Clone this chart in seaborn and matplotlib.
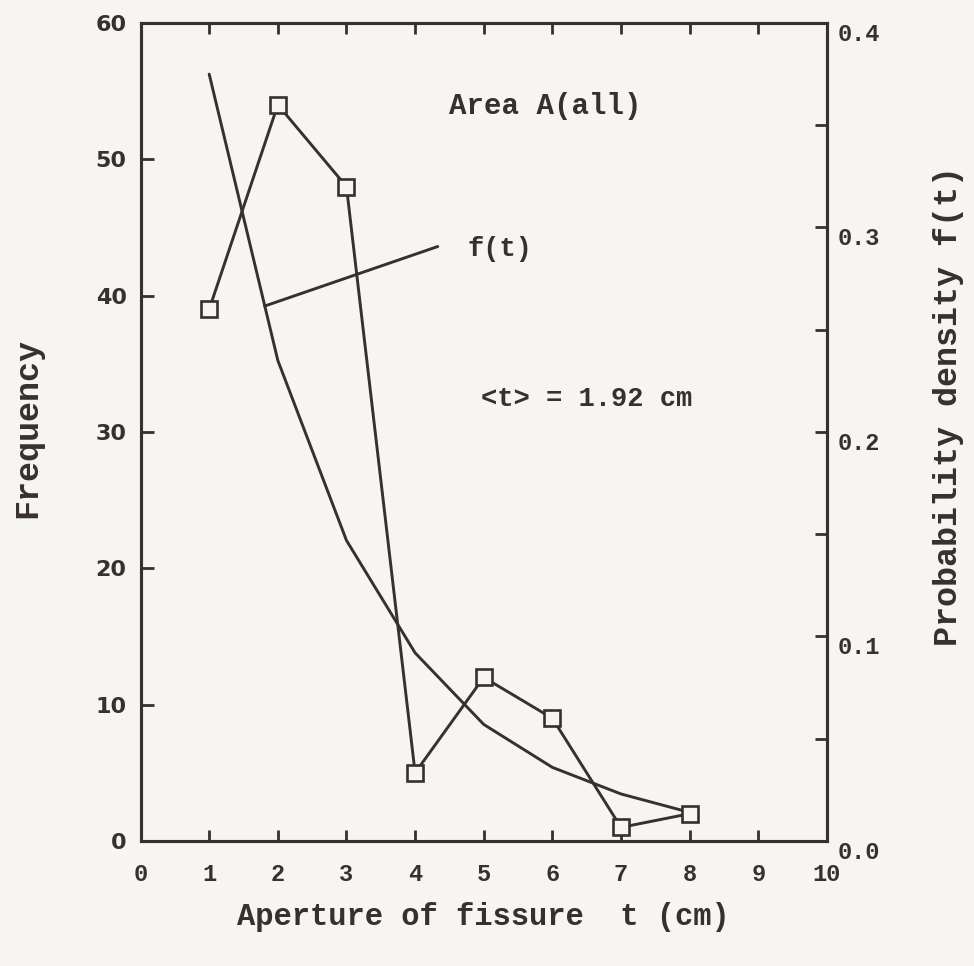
import numpy as np
import pandas as pd
import matplotlib
matplotlib.use("Agg")
import matplotlib.pyplot as plt
import seaborn as sns

# Observed fissure apertures (cm) and their counts
aperture_cm = [1, 2, 3, 4, 5, 6, 7, 8]
frequency = [39, 54, 48, 5, 12, 9, 1, 2]

# Fitted probability density f(t)
density_t = [1, 2, 3, 4, 5, 6, 7, 8]
density_ft = [0.375, 0.235, 0.147, 0.092, 0.057, 0.036, 0.023, 0.014]

x_ticks = list(range(0, 11))
freq_ticks = [0, 10, 20, 30, 40, 50, 60]
dens_ticks = [0.0, 0.1, 0.2, 0.3, 0.4]
dens_minor = [0.05, 0.15, 0.25, 0.35]
dens_labels = ["0.0", "0.1", "0.2", "0.3", "0.4"]

PAPER = "#f7f5f2"
INK = "#372f30"
MONO = ["Liberation Mono", "DejaVu Sans Mono"]

sns.set_theme(style="ticks")
plt.rcParams.update({
    "axes.edgecolor": INK,
    "axes.linewidth": 2.2,
    "xtick.color": INK,
    "ytick.color": INK,
    "text.color": INK,
    "axes.facecolor": PAPER,
    "figure.facecolor": PAPER,
})

df_freq = pd.DataFrame({"t": aperture_cm, "n": frequency})
df_dens = pd.DataFrame({"t": density_t, "f": density_ft})

fig = plt.figure(figsize=(9.74, 9.66), dpi=100)
left, right, bottom, top = 0.1443, 0.849, 0.1294, 0.9762
ax = fig.add_axes([left, bottom, right - left, top - bottom])
ax2 = ax.twinx()
ax.set_zorder(ax2.get_zorder() + 1)
ax.patch.set_visible(False)

# density curve on the right-hand scale
sns.lineplot(data=df_dens, x="t", y="f", ax=ax2, color=INK, linewidth=2.1)

# frequency polygon with open square markers
sns.lineplot(data=df_freq, x="t", y="n", ax=ax, color=INK, linewidth=2.1,
             marker="s", markersize=12, markerfacecolor=PAPER,
             markeredgecolor=INK, markeredgewidth=1.9)

ax.set_xlim(0, 10)
ax.set_ylim(0, 60)
ax2.set_ylim(0, 0.4)
for a in (ax, ax2):
    a.set_xlabel("")
    a.set_ylabel("")
    for s in a.spines.values():
        s.set_visible(True)
        s.set_color(INK)
        s.set_linewidth(2.2)

ax.set_xticks(x_ticks)
ax.set_xticklabels([str(v) for v in x_ticks], family=MONO,
                   fontsize=17, fontweight="bold")
ax.set_yticks(freq_ticks)
ax.set_yticklabels([str(v) for v in freq_ticks], family="DejaVu Sans",
                   fontsize=16, fontweight="bold")
ax.tick_params(axis="x", which="both", direction="in", top=True, bottom=True,
               length=8, width=2, pad=16)
ax.tick_params(axis="y", which="both", direction="in", left=True, right=False,
               length=9, width=2, pad=10)

ax2.set_yticks(dens_ticks)
ax2.set_yticks(dens_minor, minor=True)
ax2.set_yticklabels(dens_labels, family=MONO, fontsize=17, fontweight="bold")
ax2.tick_params(axis="y", which="both", direction="in", left=False, right=True,
                length=9, width=2, pad=8)
for lbl in ax2.get_yticklabels():
    lbl.set_verticalalignment("top")

# annotations
ax.text(5.9, 53.9, "Area A(all)", ha="center", va="center", family=MONO,
        fontsize=21, fontweight="bold", color=INK)
ax.text(4.77, 43.4, "f(t)", ha="left", va="center", family=MONO,
        fontsize=19.5, fontweight="bold", color=INK)
ax.text(6.5, 32.45, "<t> = 1.92 cm", ha="center", va="center", family=MONO,
        fontsize=19.5, fontweight="bold", color=INK)

# leader from the density curve to its label
lead_t0, lead_t1, lead_f1 = 1.81, 4.33, 0.2907
ax2.plot([lead_t0, lead_t1],
         [np.interp(lead_t0, density_t, density_ft), lead_f1],
         color=INK, linewidth=2.1)

# axis titles
fig.text(28 / 974, 1 - 428 / 966, "Frequency", rotation=90, ha="center",
         va="center", family=MONO, fontsize=24, fontweight="bold", color=INK)
fig.text(949 / 974, 1 - 406 / 966, "Probability density f(t)", rotation=90,
         ha="center", va="center", family=MONO, fontsize=24,
         fontweight="bold", color=INK)
fig.text(483 / 974, 1 - 917 / 966, "Aperture of fissure  t (cm)",
         ha="center", va="center", family=MONO, fontsize=22,
         fontweight="bold", color=INK)

fig.savefig("out.png", dpi=100, facecolor=PAPER)
